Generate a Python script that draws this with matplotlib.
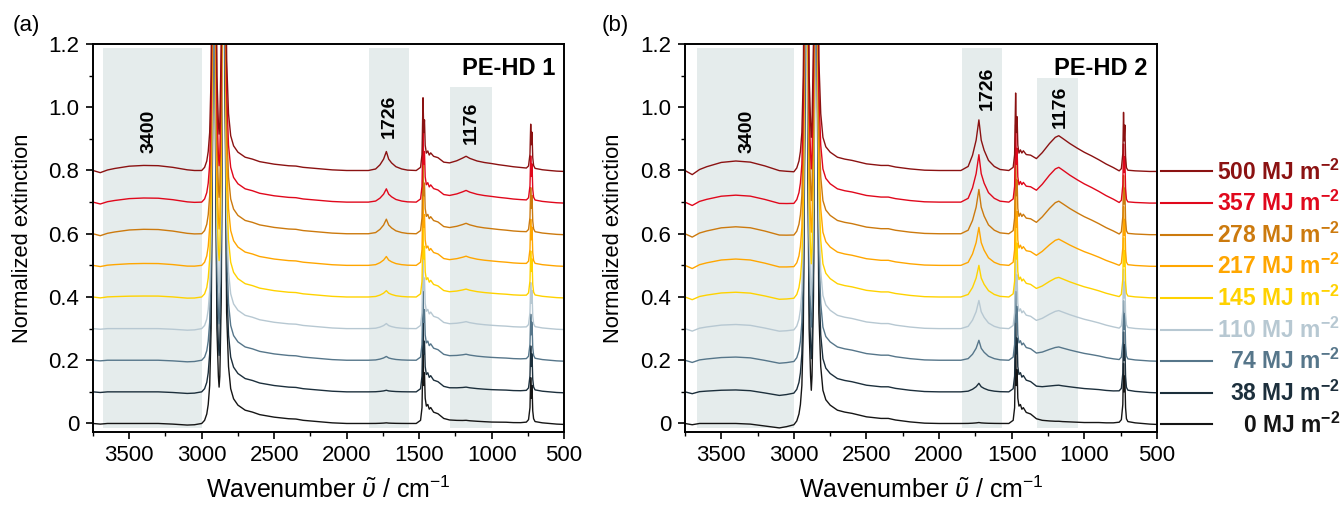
import numpy as np
import matplotlib
matplotlib.use("Agg")
import matplotlib.pyplot as plt
import matplotlib.transforms as mtransforms

plt.rcParams['font.family'] = ['Liberation Sans', 'DejaVu Sans']
plt.rcParams['mathtext.fontset'] = 'custom'
plt.rcParams['mathtext.rm'] = 'Liberation Sans'
plt.rcParams['mathtext.it'] = 'Liberation Sans:italic'
plt.rcParams['mathtext.bf'] = 'Liberation Sans:bold'

# --- datos ---------------------------------------------------------------
dosis = ['0', '38', '74', '110', '145', '217', '278', '357', '500']
colores = ['#151515', '#1c2f3c', '#56768a', '#b7c8d2', '#ffd200',
           '#ffa600', '#cc7a0e', '#e0081c', '#8b1212']
offsets = [0.0, 0.1, 0.2, 0.3, 0.4, 0.5, 0.6, 0.7, 0.8]

# numero de onda (cm-1)
wn = [3750, 3700, 3650, 3600, 3500, 3400, 3300, 3200, 3100, 3050,
      3000, 2980, 2965, 2955, 2945, 2935, 2925, 2915, 2905, 2895,
      2885, 2880, 2875, 2865, 2858, 2848, 2838, 2828, 2815, 2800,
      2780, 2750, 2700, 2650, 2600, 2500, 2400, 2350, 2300, 2200,
      2100, 2000, 1900, 1850, 1800, 1770, 1745, 1726, 1710, 1690,
      1660, 1620, 1580, 1520, 1490, 1480, 1473, 1468, 1463, 1458,
      1450, 1440, 1430, 1420, 1400, 1370, 1330, 1290, 1240, 1200,
      1176, 1150, 1100, 1050, 1000, 950, 900, 850, 800, 760,
      745, 735, 730, 726, 721, 716, 710, 700, 650, 600,
      550, 500]

# espectro comun del PE (sin oxidacion)
base_a = [0.000, -0.002, 0.000, 0.000, 0.000, 0.000, 0.000, -0.002, -0.005, -0.004,
          0.000, 0.010, 0.030, 0.060, 0.120, 0.300, 0.900, 3.000, 0.900, 0.300,
          0.150, 0.115, 0.150, 0.400, 1.000, 3.000, 1.000, 0.350, 0.180, 0.110,
          0.078, 0.058, 0.042, 0.036, 0.028, 0.020, 0.015, 0.014, 0.010, 0.006,
          0.002, 0.000, 0.000, 0.000, 0.000, 0.000, 0.000, 0.000, 0.000, 0.000,
          0.000, 0.000, 0.000, 0.000, 0.010, 0.050, 0.230, 0.120, 0.160, 0.080,
          0.055, 0.060, 0.045, 0.050, 0.035, 0.030, 0.015, 0.010, 0.008, 0.007,
          0.007, 0.006, 0.005, 0.004, 0.003, 0.003, 0.003, 0.002, 0.002, 0.004,
          0.012, 0.050, 0.145, 0.080, 0.120, 0.040, 0.015, 0.006, 0.002, 0.000,
          -0.002, -0.003]
base_b = [0.000, -0.004, 0.000, 0.000, 0.000, 0.000, -0.002, -0.008, -0.014, -0.010,
          -0.004, 0.008, 0.030, 0.060, 0.120, 0.300, 0.900, 3.000, 0.900, 0.300,
          0.150, 0.105, 0.150, 0.400, 1.000, 3.000, 1.000, 0.350, 0.180, 0.105,
          0.075, 0.058, 0.042, 0.036, 0.032, 0.021, 0.016, 0.016, 0.011, 0.005,
          0.001, 0.000, 0.000, 0.000, 0.000, 0.000, 0.000, 0.000, 0.000, 0.000,
          0.000, 0.000, 0.000, 0.000, 0.010, 0.050, 0.245, 0.120, 0.170, 0.080,
          0.055, 0.060, 0.045, 0.050, 0.035, 0.030, 0.015, 0.010, 0.008, 0.007,
          0.007, 0.006, 0.005, 0.004, 0.003, 0.003, 0.003, 0.002, 0.002, 0.004,
          0.012, 0.060, 0.190, 0.100, 0.150, 0.050, 0.015, 0.006, 0.002, 0.000,
          -0.002, -0.003]

# forma de las bandas (normalizadas a 1 en el maximo)
banda_3400 = [0, -0.3, 0.1, 0.4, 0.85, 1.0, 0.95, 0.75, 0.45, 0.25, 0] + [0] * 81
banda_1726 = [0] * 43 + [0, 0.08, 0.3, 0.6, 1.0, 0.6, 0.4, 0.2, 0.08, 0.02, 0] + [0] * 38
banda_1176_a = [0] * 60 + [0, 0.05, 0.10, 0.15, 0.26, 0.28, 0.30, 0.37, 0.60, 0.85,
                           1.0, 0.85, 0.66, 0.56, 0.50, 0.40, 0.32, 0.26, 0.20, 0.10,
                           0.06, 0.05, 0.04, 0.04, 0.03, 0.03, 0.02, 0.02, 0.01, 0,
                           0, 0]
banda_1176_b = [0] * 60 + [0, 0.05, 0.10, 0.12, 0.15, 0.18, 0.22, 0.45, 0.75, 0.95,
                           1.0, 0.93, 0.78, 0.65, 0.53, 0.42, 0.30, 0.18, 0.07, -0.05,
                           -0.06, -0.06, -0.06, -0.06, -0.06, -0.06, -0.06, -0.05, -0.03, -0.02,
                           -0.01, 0]

# amplitudes por dosis (0 ... 500 MJ m-2)
amp_3400_a = [0.0, 0.0, 0.0, 0.0, 0.003, 0.006, 0.014, 0.013, 0.016]
amp_1726_a = [0.002, 0.005, 0.012, 0.016, 0.020, 0.028, 0.046, 0.042, 0.060]
amp_1176_a = [0.003, 0.008, 0.012, 0.015, 0.018, 0.022, 0.026, 0.030, 0.038]
amp_3400_b = [0.0, 0.006, 0.010, 0.013, 0.015, 0.020, 0.022, 0.022, 0.030]
amp_1726_b = [0.003, 0.027, 0.063, 0.089, 0.100, 0.120, 0.140, 0.150, 0.160]
amp_1176_b = [0.0, 0.014, 0.035, 0.050, 0.055, 0.076, 0.096, 0.103, 0.103]

bandas_a = [(3680, 3000, 0.99), (1845, 1570, 0.99), (1290, 1000, 0.889)]
bandas_b = [(3670, 3000, 0.99), (1845, 1565, 0.99), (1325, 1045, 0.912)]
etiquetas_a = [('3400', 3365, 0.924), ('1726', 1707, 0.971), ('1176', 1137, 0.95)]
etiquetas_b = [('3400', 3326, 0.924), ('1726', 1667, 1.061), ('1176', 1163, 1.0)]


def graficar_panel(ax, base, a3400, a1726, a1176, forma1176, bandas, etiquetas, nombre, leyenda=False):
    for x0, x1, ytop in bandas:
        ax.axvspan(x1, x0, ymin=0.01, ymax=ytop, color='#e5ecec', lw=0, zorder=0)
    for txt, x, y in etiquetas:
        ax.text(x, y, txt, rotation=90, ha='center', va='center',
                fontsize=14, fontweight='bold', zorder=3)

    x = np.array(wn)
    finales = []
    for i in range(len(dosis)):
        y = (offsets[i] + np.array(base) + a3400[i] * np.array(banda_3400)
             + a1726[i] * np.array(banda_1726) + a1176[i] * np.array(forma1176))
        ax.plot(x, y, color=colores[i], lw=1.0, zorder=2)
        finales.append(y[-1])

    ax.set_xlim(3750, 500)
    ax.set_ylim(-0.027, 1.2)
    ax.set_xticks([3500, 3000, 2500, 2000, 1500, 1000, 500])
    ax.set_xticks(np.arange(3750, 499, -250), minor=True)
    ax.set_yticks([0, 0.2, 0.4, 0.6, 0.8, 1.0, 1.2])
    ax.set_yticklabels(['0', '0.2', '0.4', '0.6', '0.8', '1.0', '1.2'])
    ax.set_yticks(np.arange(0, 1.21, 0.1), minor=True)
    ax.tick_params(which='major', direction='out', length=5, width=1.2, labelsize=16)
    ax.tick_params(axis='x', which='major', pad=4)
    ax.tick_params(axis='y', which='major', pad=5)
    ax.tick_params(which='minor', direction='out', length=3, width=1.0)
    for s in ax.spines.values():
        s.set_linewidth(1.4)

    ax.text(0.981, 0.937, nombre, transform=ax.transAxes, ha='right', va='center',
            fontsize=17, fontweight='bold')

    if leyenda:
        trans = mtransforms.blended_transform_factory(ax.transAxes, ax.transData)
        for i in range(len(dosis)):
            ax.plot([1.008, 1.117], [finales[i], finales[i]], color=colores[i], lw=1.5,
                    transform=trans, clip_on=False)
            ax.annotate(dosis[i] + r' MJ m$^{\mathbf{-2}}$', xy=(1.388, finales[i]),
                        xycoords=trans, xytext=(0, -5.8), textcoords='offset points',
                        ha='right', va='baseline', fontsize=16.5, fontweight='bold',
                        color=colores[i], annotation_clip=False)


fig = plt.figure(figsize=(13.42, 5.07), dpi=100)
ax_a = fig.add_axes([0.0693, 0.1479, 0.351, 0.7653])
ax_b = fig.add_axes([0.5104, 0.1479, 0.3517, 0.7653])

graficar_panel(ax_a, base_a, amp_3400_a, amp_1726_a, amp_1176_a, banda_1176_a,
               bandas_a, etiquetas_a, 'PE-HD 1')
graficar_panel(ax_b, base_b, amp_3400_b, amp_1726_b, amp_1176_b, banda_1176_b,
               bandas_b, etiquetas_b, 'PE-HD 2', leyenda=True)

xlabel = r'Wavenumber $\tilde{\upsilon}$ / cm$^{-1}$'
fig.text(0.2448, 0.033, xlabel, ha='center', va='center', fontsize=18)
fig.text(0.6863, 0.033, xlabel, ha='center', va='center', fontsize=18)
fig.text(0.0164, 0.5306, 'Normalized extinction', rotation=90, ha='center', va='center', fontsize=15.8)
fig.text(0.4568, 0.5306, 'Normalized extinction', rotation=90, ha='center', va='center', fontsize=15.8)
fig.text(0.0097, 0.949, '(a)', ha='left', va='center', fontsize=16)
fig.text(0.4483, 0.949, '(b)', ha='left', va='center', fontsize=16)

fig.savefig('out.png', dpi=100)
